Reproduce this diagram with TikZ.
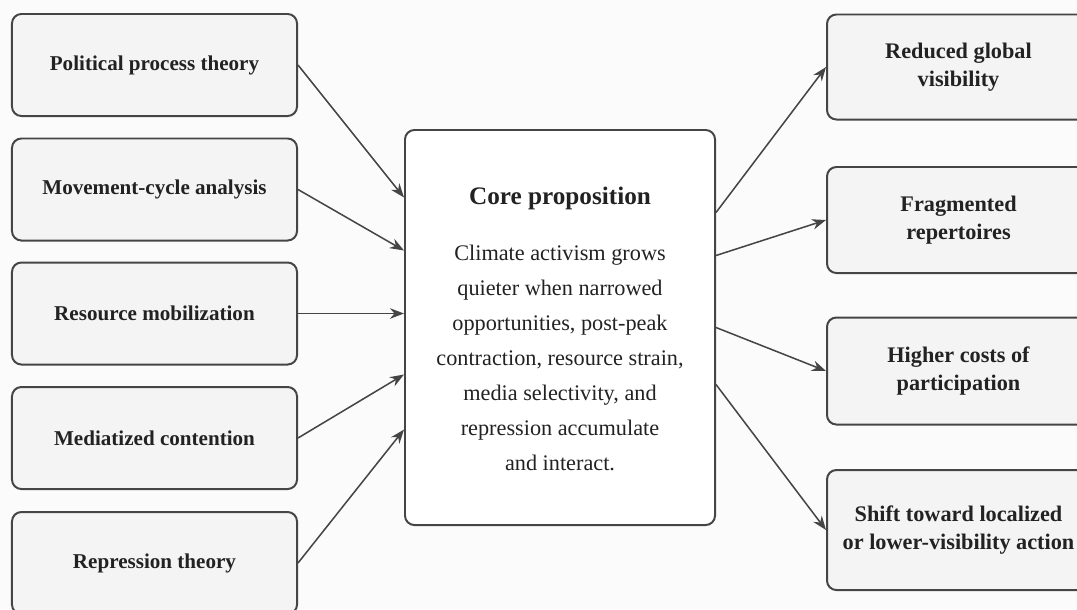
\documentclass[tikz,border=0pt]{standalone}
\usepackage{fontspec}
\setmainfont{Liberation Serif}
\usetikzlibrary{arrows.meta, positioning, calc}
\definecolor{cink}{HTML}{222222}
\definecolor{cline}{HTML}{454545}
\definecolor{cfill}{HTML}{F4F4F4}
\definecolor{cpaper}{HTML}{FBFBFB}
\tikzset{
  every picture/.style={x=0.03cm, y=-0.03cm, line width=1.7pt},
  box/.style={draw=cline, fill=#1, rounded corners=8pt, align=center, text=cink, font=\fontsize{18}{23}\selectfont\bfseries, inner sep=6pt},
  box/.default=cfill,
  arrow/.style={-{Stealth[length=12pt, width=9pt]}, draw=cline, line width=1.3pt},
  title/.style={font=\fontsize{21.5}{26}\selectfont\bfseries, text=cink},
  body/.style={font=\fontsize{19}{29.8}\selectfont, text=cink, align=center},
}

\begin{document}
\begin{tikzpicture}
  \fill[cpaper] (0,0) rectangle (1077,609);
  \useasboundingbox (0,0) rectangle (1077,609);
  % the five theories
  \foreach \y/\t/\n in {65/Political process theory/pp, 189.5/Movement-cycle analysis/mc, 313.5/Resource mobilization/rm,
                        438/Mediatized contention/mz, 563/Repression theory/rp} {
    \node[box, minimum width=8.55cm, minimum height=3.06cm] (\n) at (154.5,\y) {\t};
  }
  % core proposition
  \node[box=white, minimum width=9.3cm, minimum height=11.85cm] (core) at (560,327.5) {};
  \node[title] (coretitle) at (560,198) {Core proposition};
  \node[body] (corebody) at (560,358) {Climate activism grows\\quieter when narrowed\\opportunities, post-peak\\contraction, resource strain,\\media selectivity, and\\repression accumulate\\and interact.};
  % outcomes
  \foreach \y/\h/\t/\n in {67/3.15/Reduced global\\visibility/rg, 220/3.18/Fragmented\\repertoires/fr,
                           371/3.21/Higher costs of\\participation/hc, 530/3.6/Shift toward localized\\or lower-visibility action/sl} {
    \node[box, font=\fontsize{19}{24}\selectfont\bfseries, minimum width=7.89cm, minimum height=\h cm] (\n) at (958.5,\y) {\t};
  }
  \foreach \s/\dy in {pp/-130, mc/-77, rm/-14, mz/47, rp/102} {
    \draw[arrow] (\s.east) -- ($(core.west)+(0,\dy)$);
  }
  \foreach \dy/\t in {-115/rg, -72/fr, 0/hc, 57/sl} {
    \draw[arrow] ($(core.east)+(0,\dy)$) -- (\t.west);
  }
\end{tikzpicture}
\end{document}
